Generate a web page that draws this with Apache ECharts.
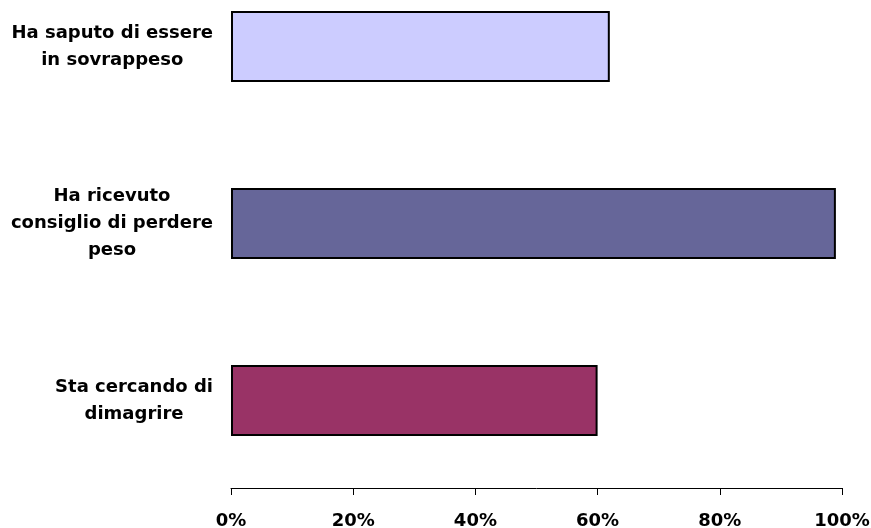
<!DOCTYPE html>
<html>
<head>
<meta charset="utf-8">
<script src="https://cdn.jsdelivr.net/npm/echarts@6/dist/echarts.min.js"></script>
<style>html,body{margin:0;padding:0;background:#fff;}#c{width:871px;height:528px;}</style>
</head>
<body>
<div id="c"></div>
<script>
const categories = ['Ha saputo di essere\nin sovrappeso', 'Ha ricevuto\nconsiglio di perdere\npeso', 'Sta cercando di\ndimagrire'];
const values = [62, 99, 60];
const barColors = ['#CCCCFF', '#666699', '#993366'];
const xTicks = [0, 20, 40, 60, 80, 100];

const chart = echarts.init(document.getElementById('c'), null, {renderer: 'canvas'});
const font = '"DejaVu Sans", "Liberation Sans", Arial, sans-serif';
chart.setOption({
  animation: false,
  backgroundColor: '#ffffff',
  grid: {left: 231, right: 29, top: 46.5, bottom: 127.5, containLabel: false, outerBoundsMode: 'none'},
  xAxis: {
    type: 'value', min: 0, max: 100, interval: 20, offset: 87.5,
    axisLine: {show: true, lineStyle: {color: '#000', width: 1}},
    axisTick: {show: true, length: 7, lineStyle: {color: '#000'}},
    splitLine: {show: false},
    axisLabel: {
      margin: 24, color: '#000', fontSize: 18, fontWeight: 'bold', fontFamily: font,
      formatter: v => xTicks.indexOf(v) >= 0 ? v + '%' : ''
    }
  },
  yAxis: {
    type: 'category', inverse: true, data: categories, boundaryGap: false,
    axisLine: {show: false}, axisTick: {show: false}, splitLine: {show: false},
    axisLabel: {
      margin: 18, align: 'right', color: '#000', fontSize: 18, fontWeight: 'bold', fontFamily: font, lineHeight: 27,
      formatter: v => v.split('\n').map(l => '{c|' + l + '}').join('\n'),
      rich: {c: {align: 'center', color: '#000', fontSize: 18, fontWeight: 'bold', fontFamily: font, lineHeight: 27}}
    }
  },
  series: [{
    type: 'bar',
    barCategoryGap: '60%',
    data: values.map((v, i) => ({value: v, itemStyle: {color: barColors[i]}})),
    itemStyle: {borderColor: '#000', borderWidth: 2}
  }]
});
</script>
</body>
</html>
